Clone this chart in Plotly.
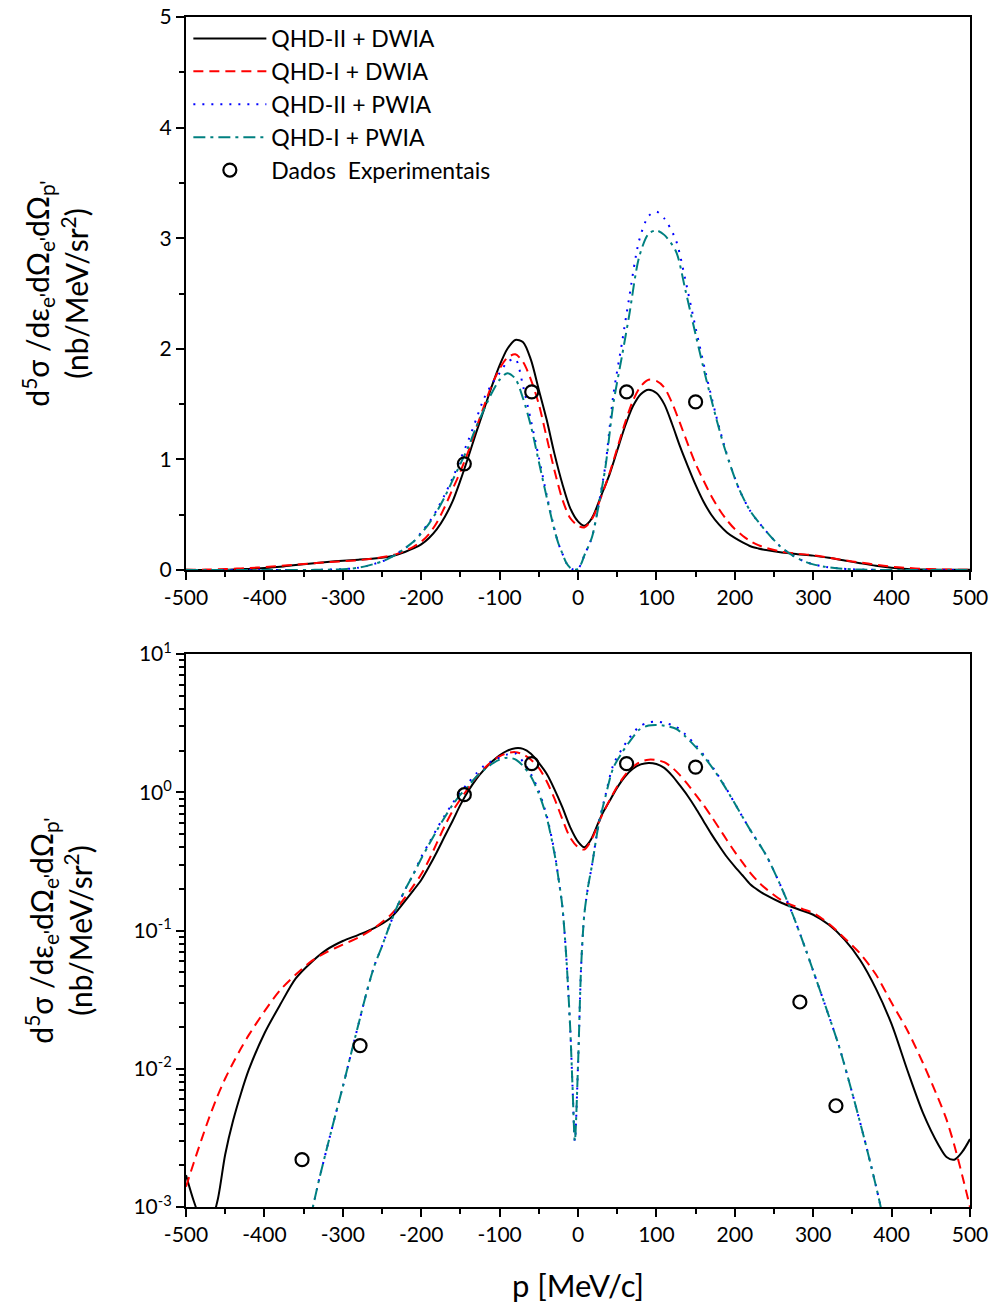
import plotly.graph_objects as go
from plotly.subplots import make_subplots

# ---------------- data ----------------
x_dwia = [-500, -490, -480, -470, -460, -450, -440, -430, -420, -400, -380, -360, -340, -320, -300,
          -280, -260, -240, -230, -220, -210, -200, -190, -180, -170, -160, -150, -140, -130, -120,
          -110, -100, -90, -80, -70, -60, -50, -40, -30, -20, -10, 0, 8, 15, 20, 30, 40, 50, 60,
          70, 80, 90, 100, 110, 120, 130, 140, 150, 160, 170, 180, 190, 200, 210, 220, 230, 240,
          260, 280, 300, 320, 340, 360, 380, 400, 420, 440, 460, 470, 480, 490, 500]

qhd2_dwia = [0.0017, 0.0011, 0.0008, 0.00075, 0.0011, 0.0024, 0.0042, 0.0066, 0.0098, 0.018, 0.029,
             0.045, 0.059, 0.073, 0.084, 0.093, 0.104, 0.122, 0.140, 0.165, 0.195, 0.232, 0.29,
             0.37, 0.48, 0.62, 0.81, 1.02, 1.24, 1.45, 1.66, 1.85, 2.00, 2.08, 2.06, 1.90, 1.63,
             1.36, 1.05, 0.78, 0.56, 0.44, 0.40, 0.44, 0.50, 0.68, 0.86, 1.08, 1.30, 1.48, 1.59,
             1.63, 1.60, 1.50, 1.32, 1.12, 0.94, 0.77, 0.62, 0.50, 0.41, 0.34, 0.29, 0.25, 0.215,
             0.195, 0.18, 0.158, 0.143, 0.130, 0.110, 0.086, 0.061, 0.038, 0.021, 0.0098, 0.0048,
             0.0028, 0.0023, 0.0022, 0.0025, 0.0031]

qhd1_dwia = [0.0014, 0.0021, 0.0031, 0.0045, 0.0063, 0.0085, 0.011, 0.014, 0.0175, 0.026, 0.037,
             0.048, 0.060, 0.070, 0.079, 0.089, 0.104, 0.128, 0.148, 0.175, 0.21, 0.255, 0.325,
             0.43, 0.57, 0.73, 0.89, 1.07, 1.28, 1.48, 1.67, 1.82, 1.92, 1.95, 1.88, 1.72, 1.50,
             1.20, 0.90, 0.64, 0.47, 0.40, 0.385, 0.43, 0.49, 0.67, 0.87, 1.10, 1.33, 1.53, 1.66,
             1.72, 1.71, 1.65, 1.51, 1.33, 1.14, 0.96, 0.81, 0.67, 0.55, 0.45, 0.37, 0.31, 0.26,
             0.225, 0.20, 0.165, 0.147, 0.134, 0.112, 0.088, 0.068, 0.048, 0.030, 0.019, 0.011,
             0.0060, 0.0043, 0.0028, 0.0017, 0.0010]

x_pwia = [-500, -450, -400, -360, -340, -330, -320, -310, -300, -290, -280, -270, -260, -250, -240,
          -230, -220, -210, -200, -190, -180, -170, -160, -150, -140, -130, -120, -110, -100, -90,
          -80, -70, -60, -50, -40, -30, -25, -20, -15, -10, -7, -4, 0, 4, 8, 13, 18, 26, 35, 45,
          56, 65, 78, 90, 100, 110, 125, 137, 150, 163, 176, 188, 205, 220, 240, 257, 274, 290,
          300, 316, 333, 350, 368, 385, 400, 450, 500]

qhd1_pwia = [1e-7, 1e-6, 3e-5, 0.0003, 0.0009, 0.0016, 0.0027, 0.0045, 0.0074, 0.0125, 0.021,
             0.035, 0.055, 0.077, 0.11, 0.152, 0.20, 0.255, 0.33, 0.42, 0.53, 0.66, 0.81, 0.96,
             1.11, 1.29, 1.45, 1.60, 1.72, 1.78, 1.73, 1.55, 1.30, 0.98, 0.66, 0.36, 0.24, 0.15,
             0.065, 0.020, 0.0075, 0.0030, 0.0105, 0.055, 0.13, 0.21, 0.30, 0.57, 0.93, 1.50,
             1.93, 2.29, 2.83, 3.04, 3.07, 3.03, 2.88, 2.53, 2.13, 1.74, 1.38, 1.08, 0.74, 0.53,
             0.35, 0.22, 0.13, 0.074, 0.051, 0.028, 0.0145, 0.0066, 0.0027, 0.00107, 0.0004,
             1e-5, 1e-7]

qhd2_pwia = [1e-7, 1e-6, 3e-5, 0.0003, 0.0009, 0.0016, 0.0027, 0.0045, 0.0074, 0.0125, 0.021,
             0.035, 0.055, 0.077, 0.11, 0.152, 0.20, 0.255, 0.34, 0.43, 0.545, 0.68, 0.83, 1.00,
             1.17, 1.36, 1.55, 1.68, 1.78, 1.88, 1.91, 1.66, 1.35, 1.02, 0.68, 0.37, 0.24, 0.15,
             0.065, 0.020, 0.0075, 0.0030, 0.0105, 0.055, 0.13, 0.21, 0.30, 0.58, 0.95, 1.58,
             2.05, 2.45, 2.98, 3.20, 3.24, 3.18, 2.98, 2.62, 2.19, 1.78, 1.40, 1.09, 0.74, 0.53,
             0.35, 0.22, 0.13, 0.074, 0.051, 0.028, 0.0145, 0.0066, 0.0027, 0.00107, 0.0004,
             1e-5, 1e-7]

x_exp = [-352, -278, -145, -59, 62, 150, 283, 329]
y_exp = [0.0022, 0.0147, 0.96, 1.61, 1.61, 1.52, 0.0304, 0.0054]

series_names = ["QHD-II + DWIA", "QHD-I + DWIA", "QHD-II + PWIA", "QHD-I + PWIA"]
exp_name = "Dados  Experimentais"

x_ticks = list(range(-500, 501, 100))
lin_ticks = [0, 1, 2, 3, 4, 5]
log_tick_vals = [1e-3, 1e-2, 1e-1, 1e0, 1e1]
log_tick_text = ["10<sup>-3</sup>", "10<sup>-2</sup>", "10<sup>-1</sup>", "10<sup>0</sup>", "10<sup>1</sup>"]

FONT = "Lato, Noto Sans, DejaVu Sans, sans-serif"

# the page body margin is removed after drawing (post_script), so the figure fills the window
W, H = 995, 1310
left_px, right_px = 186, 970
top_px, mid1_px, mid2_px, bot_px = 17, 570, 654, 1207
plot_h = bot_px - top_px


def yfrac(px):
    return (bot_px - px) / plot_h


# ---------------- figure ----------------
fig = make_subplots(rows=2, cols=1)

styles = [
    dict(color="black", width=2, dash="solid"),
    dict(color="#FF0000", width=2, dash="10px,6px"),
    dict(color="#0000FF", width=2, dash="2px,7px"),
    dict(color="#008080", width=2, dash="12px,5px,3px,5px"),
]
xs = [x_dwia, x_dwia, x_pwia, x_pwia]
ys = [qhd2_dwia, qhd1_dwia, qhd2_pwia, qhd1_pwia]

# the linear panel of the reference only shows the points that stand clear of the axis
top_idx = [i for i, v in enumerate(y_exp) if v > 0.1]

for row in (1, 2):
    for name, x, y, st in zip(series_names, xs, ys, styles):
        fig.add_trace(go.Scatter(x=x, y=y, mode="lines", name=name,
                                 line=dict(**st, shape="spline", smoothing=0.8),
                                 showlegend=(row == 1), legendgroup=name), row=row, col=1)
    ex = x_exp if row == 2 else [x_exp[i] for i in top_idx]
    ey = y_exp if row == 2 else [y_exp[i] for i in top_idx]
    fig.add_trace(go.Scatter(x=ex, y=ey, mode="markers", name=exp_name,
                             marker=dict(symbol="circle-open", size=13, color="black",
                                         line=dict(width=2.2, color="black")),
                             showlegend=(row == 1), legendgroup="exp"), row=row, col=1)

axis_common = dict(showline=True, linecolor="black", linewidth=2, mirror=True, ticks="outside",
                   ticklen=8, tickwidth=2, tickcolor="black", showgrid=False, zeroline=False,
                   automargin=False, ticklabeloverflow="allow",
                   tickfont=dict(family=FONT, size=21, color="black"))
minor_common = dict(ticks="outside", ticklen=5, tickwidth=2, tickcolor="black", showgrid=False)

fig.update_xaxes(range=[-500, 500], tickvals=x_ticks, ticktext=[str(v) for v in x_ticks],
                 minor=dict(dtick=50, tick0=0, **minor_common), **axis_common)
fig.update_xaxes(title=dict(text="p [MeV/c]", font=dict(family=FONT, size=31, color="black"), standoff=30),
                 row=2, col=1)

ytitle = "d<sup>5</sup>σ /dε<sub>e'</sub>dΩ<sub>e'</sub>dΩ<sub>p'</sub><br>(nb/MeV/sr<sup>2</sup>)"

fig.update_yaxes(range=[0, 5], tickvals=lin_ticks, ticktext=[str(v) for v in lin_ticks],
                 minor=dict(dtick=0.5, tick0=0, **minor_common),
                 title=dict(text=ytitle, font=dict(family=FONT, size=30, color="black"), standoff=62),
                 domain=[yfrac(mid1_px), 1.0], row=1, col=1, **axis_common)

minor_log = [m * 10 ** k for k in range(-3, 1) for m in range(2, 10)]
fig.update_yaxes(type="log", range=[-3, 1], tickvals=log_tick_vals, ticktext=log_tick_text,
                 minor=dict(tickvals=minor_log, **minor_common),
                 title=dict(text=ytitle, font=dict(family=FONT, size=30, color="black"), standoff=32),
                 domain=[0.0, yfrac(mid2_px)], row=2, col=1, **axis_common)

fig.update_layout(
    width=W, height=H,
    margin=dict(l=left_px, r=W - right_px, t=top_px, b=H - bot_px),
    paper_bgcolor="white", plot_bgcolor="white",
    font=dict(family=FONT, color="black"),
    legend=dict(x=0.003, y=1.0, xanchor="left", yanchor="top", bgcolor="rgba(0,0,0,0)",
                font=dict(family=FONT, size=23, color="black"), itemwidth=73, tracegroupgap=0),
)

fig.write_html("out.html", config={"displayModeBar": False},
               post_script="document.body.style.margin='0';document.body.style.overflow='hidden';")
